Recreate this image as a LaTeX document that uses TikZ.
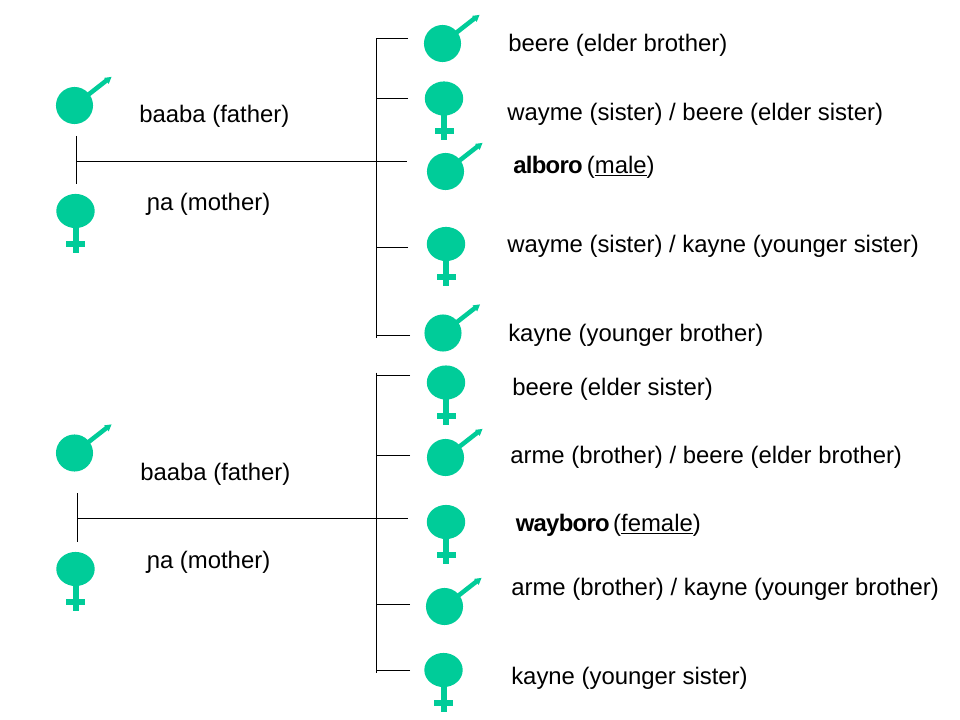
\documentclass[tikz,border=0pt]{standalone}
\usepackage{fontspec}
\setmainfont{Liberation Sans}
\definecolor{symgreen}{RGB}{0,204,153}
\newcommand{\tightbold}[1]{{\bfseries\addfontfeature{LetterSpace=-3}#1}}
\tikzset{
  x=0.75pt,y=-0.75pt,
  kinline/.style={draw=black,line width=0.8pt},
  kinlabel/.style={anchor=base west,inner sep=0pt,font=\fontsize{17.92}{21}\selectfont,text=black},
  malesym/.pic={
    \fill[symgreen] (0,0) circle[radius=13.9pt];
    \draw[symgreen,line width=3.4pt] (0,0) -- (33,-25.8);
    \fill[symgreen] (37,-28.6) -- (34.2,-21.6) -- (29.6,-27.6) -- cycle;
  },
  femalesym/.pic={
    \fill[symgreen] (0,0) ellipse[x radius=14.4pt,y radius=12.8pt];
    \fill[symgreen] (-3,10) rectangle (3,42);
    \fill[symgreen] (-9.5,30) rectangle (9.5,36);
  }
}
\begin{document}
\begin{tikzpicture}
\useasboundingbox (0,0) rectangle (960,720);
\fill[white] (0,0) rectangle (960,720);

% symbols, upper family
\pic at (74.5,105.5) {malesym};
\pic at (75.5,211) {femalesym};
\pic at (442.5,43.5) {malesym};
\pic at (444,98.5) {femalesym};
\pic at (445.5,171.5) {malesym};
\pic at (446,244) {femalesym};
\pic at (443,333) {malesym};

% symbols, lower family
\pic at (74.5,453) {malesym};
\pic at (75.5,569) {femalesym};
\pic at (446,382.5) {femalesym};
\pic at (445.5,457.5) {malesym};
\pic at (446,522) {femalesym};
\pic at (444.5,606.5) {malesym};
\pic at (443.5,670) {femalesym};

% upper family tree
\coordinate (pa) at (76.5,136);
\coordinate (pb) at (76.5,184);
\coordinate (pc) at (76.5,161.5);
\coordinate (tr) at (376.5,38.5);
\coordinate (br) at (376.5,337.5);
\coordinate (c1) at (408,38.5);
\coordinate (c2) at (408,98.5);
\coordinate (c3) at (407,161.5);
\coordinate (c4) at (408,247.5);
\coordinate (c5) at (410,335.5);
\draw[kinline] (pa) -- (pb);
\draw[kinline] (pc) -- (c3);
\draw[kinline] (c1) -- (tr) -- (br);
\draw[kinline] (c2) -- (c2 -| tr);
\draw[kinline] (c4) -- (c4 -| tr);
\draw[kinline] (c5) -- (c5 -| tr);

% lower family tree
\coordinate (qa) at (77.5,493);
\coordinate (qb) at (77.5,542);
\coordinate (qc) at (77.5,518.5);
\coordinate (ur) at (376.5,372.5);
\coordinate (vr) at (376.5,672.5);
\coordinate (d1) at (410,375.5);
\coordinate (d2) at (410,455.5);
\coordinate (d3) at (408,518.5);
\coordinate (d4) at (410,604.5);
\coordinate (d5) at (410,670.5);
\draw[kinline] (qa) -- (qb);
\draw[kinline] (qc) -- (d3);
\draw[kinline] (ur) -- (vr);
\draw[kinline] (d1) -- (d1 -| ur);
\draw[kinline] (d2) -- (d2 -| ur);
\draw[kinline] (d4) -- (d4 -| ur);
\draw[kinline] (d5) -- (d5 -| ur);

% labels, upper family
\node[kinlabel] (l1) at (139,123) {baaba (father)};
\node[kinlabel] (l2) at (146.5,211) {ɲa (mother)};
\node[kinlabel] (l3) at (508,52) {beere (elder brother)};
\node[kinlabel] (l4) at (507,121) {wayme (sister) / beere (elder sister)};
\node[kinlabel] (l5) at (513,173.5) {\tightbold{alboro}\hspace{3.2pt}(\underline{male})};
\node[kinlabel] (l6) at (507,253) {wayme (sister) / kayne (younger sister)};
\node[kinlabel] (l7) at (508,341) {kayne (younger brother)};

% labels, lower family
\node[kinlabel] (l8) at (140,480) {baaba (father)};
\node[kinlabel] (l9) at (146.5,568) {ɲa (mother)};
\node[kinlabel] (l10) at (512,395) {beere (elder sister)};
\node[kinlabel] (l11) at (510,463) {arme (brother) / beere (elder brother)};
\node[kinlabel] (l12) at (515.5,531.5) {\tightbold{wayboro}\hspace{2.6pt}(\underline{female})};
\node[kinlabel] (l13) at (511,595) {arme (brother) / kayne (younger brother)};
\node[kinlabel] (l14) at (511,684) {kayne (younger sister)};
\end{tikzpicture}
\end{document}
